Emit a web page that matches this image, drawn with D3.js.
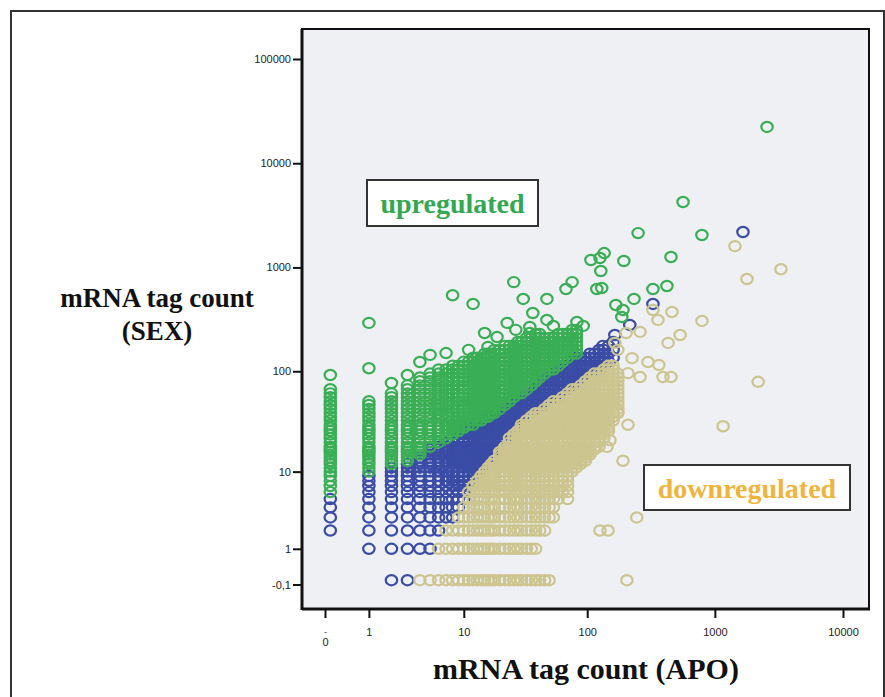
<!DOCTYPE html>
<html>
<head>
<meta charset="utf-8">
<script src="https://cdn.jsdelivr.net/npm/d3@7"></script>
<style>
  body { margin: 0; background: #fff; }
</style>
</head>
<body>
<script>
// tag counts per library, one column of SEX counts for each APO count
const downCols = [
  [4,[0]],
  [5,[0]],
  [6,[0,1]],
  [7,[0,1,2]],
  [8,[0,1,2]],
  [9,[0,1,2,3]],
  [10,[0,1,2,3,4]],
  [11,[0,1,2,3,4,5,6]],
  [12,[0,1,2,3,4,5,6,7]],
  [13,[0,1,2,3,4,5,6,7,8]],
  [14,[0,1,2,3,4,5,6,7,8,9]],
  [15,[0,1,2,3,4,5,6,7,8,9,10]],
  [16,[0,1,2,3,4,5,6,7,8,9,10,11]],
  [17,[0,1,2,3,4,5,6,7,8,9,10,11,12]],
  [18,[0,1,2,3,4,5,6,7,8,9,10,11,12,13]],
  [20,[0,1,2,3,4,5,6,7,8,9,10,11,12,13,14,15,16]],
  [22,[0,1,2,3,4,5,6,7,8,9,10,11,12,13,14,15,16,17,18]],
  [24,[0,1,2,3,4,5,6,7,8,9,10,11,12,13,14,15,16,17,18,20,22]],
  [26,[0,1,2,3,4,5,6,7,8,9,10,11,12,13,14,15,16,17,18,20,22,24]],
  [28,[0,1,2,3,4,5,6,7,8,9,10,11,12,13,14,15,16,17,18,20,22,24,26]],
  [30,[0,1,2,3,4,5,6,7,8,9,10,11,12,13,14,15,16,17,18,20,22,24,26,28,30]],
  [33,[0,1,2,3,4,5,6,7,8,9,10,11,12,13,14,15,16,17,18,20,22,24,26,28,30,33]],
  [36,[0,1,2,3,4,5,6,7,8,9,10,11,12,13,14,15,16,17,18,20,22,24,26,28,30,33,36]],
  [39,[0,1,2,3,4,5,6,7,8,9,10,11,12,13,14,15,16,17,18,20,22,24,26,28,30,33,36,39]],
  [42,[0,2,3,4,5,6,7,8,9,10,11,12,13,14,15,16,17,18,20,22,24,26,28,30,33,36,39]],
  [46,[0,2,3,4,5,6,7,8,9,10,11,12,13,14,15,16,17,18,20,22,24,26,28,30,33,36,39,43]],
  [50,[0,3,4,5,6,7,8,9,10,11,12,13,14,15,16,17,18,20,22,24,26,28,30,33,36,39,43,47]],
  [54,[3,4,5,6,7,8,9,10,11,12,13,14,15,16,17,18,20,22,24,26,28,30,33,36,39,43,47,51]],
  [59,[5,6,7,8,9,10,11,12,13,14,15,16,17,18,20,22,24,26,28,30,33,36,39,43,47,51]],
  [64,[6,7,8,9,10,11,12,13,14,15,16,17,18,20,22,24,26,28,30,33,36,39,43,47,51,56]],
  [70,[6,7,8,9,10,11,12,13,14,15,16,17,18,20,22,24,26,28,30,33,36,39,43,47,51,56,61]],
  [76,[10,11,12,13,14,15,16,17,18,20,22,24,26,28,30,33,36,39,43,47,51,56,61,67]],
  [82,[11,12,13,14,15,16,17,18,20,22,24,26,28,30,33,36,39,43,47,51,56,61,67]],
  [89,[12,13,14,15,16,17,18,20,22,24,26,28,30,33,36,39,43,47,51,56,61,67,73]],
  [97,[13,14,15,16,17,18,20,22,24,26,28,30,33,36,39,43,47,51,56,61,67,73,80]],
  [105,[15,16,17,18,20,22,24,26,28,30,33,36,39,43,47,51,56,61,67,73,80,87]],
  [114,[17,18,20,22,24,26,28,30,33,36,39,43,47,51,56,61,67,73,80,87,95]],
  [124,[18,20,22,24,26,28,30,33,36,39,43,47,51,56,61,67,73,80,87,95]],
  [135,[22,24,26,28,30,33,36,39,43,47,51,56,61,67,73,80,87,95,104]],
  [147,[26,28,30,33,36,39,43,47,51,56,61,67,73,80,87,95,104,113]],
  [160,[33,36,39,43,47,51,56,61,67,73,80,87,95,104,113]],
  [174,[39,43,47,51,56,61,67,73,80,87,95]]
];

const sameCols = [
  [0,[2,3,4,5]],
  [1,[1,2,3,4,5,6,7,8,9]],
  [2,[0,1,2,3,4,5,6,7,8,9,10,11]],
  [3,[0,1,2,3,4,5,6,7,8,9,10,11,12]],
  [4,[1,2,3,4,5,6,7,8,9,10,11,12,13,14]],
  [5,[1,2,3,4,5,6,7,8,9,10,11,12,13,14,15,16,17]],
  [6,[2,3,4,5,6,7,8,9,10,11,12,13,14,15,16,17,18]],
  [7,[3,4,5,6,7,8,9,10,11,12,13,14,15,16,17,18,20]],
  [8,[3,4,5,6,7,8,9,10,11,12,13,14,15,16,17,18,20,22]],
  [9,[4,5,6,7,8,9,10,11,12,13,14,15,16,17,18,20,22,24]],
  [10,[5,6,7,8,9,10,11,12,13,14,15,16,17,18,20,22,24,26]],
  [11,[7,8,9,10,11,12,13,14,15,16,17,18,20,22,24,26,28]],
  [12,[8,9,10,11,12,13,14,15,16,17,18,20,22,24,26,28]],
  [13,[9,10,11,12,13,14,15,16,17,18,20,22,24,26,28,30]],
  [14,[10,11,12,13,14,15,16,17,18,20,22,24,26,28,30]],
  [15,[11,12,13,14,15,16,17,18,20,22,24,26,28,30,33]],
  [16,[12,13,14,15,16,17,18,20,22,24,26,28,30,33]],
  [17,[13,14,15,16,17,18,20,22,24,26,28,30,33,36]],
  [18,[14,15,16,17,18,20,22,24,26,28,30,33,36]],
  [20,[17,18,20,22,24,26,28,30,33,36,39]],
  [22,[20,22,24,26,28,30,33,36,39,43]],
  [24,[24,26,28,30,33,36,39,43,47]],
  [26,[26,28,30,33,36,39,43,47,51]],
  [28,[28,30,33,36,39,43,47,51,56]],
  [30,[33,36,39,43,47,51,56]],
  [33,[36,39,43,47,51,56,61]],
  [36,[39,43,47,51,56,61,67]],
  [39,[43,47,51,56,61,67,73]],
  [42,[43,47,51,56,61,67,73,80]],
  [46,[47,51,56,61,67,73,80,87]],
  [50,[51,56,61,67,73,80,87,95]],
  [54,[56,61,67,73,80,87,95]],
  [59,[56,61,67,73,80,87,95,104]],
  [64,[61,67,73,80,87,95,104,113]],
  [70,[67,73,80,87,95,104,113,124]],
  [76,[73,80,87,95,104,113,124,135]],
  [82,[73,80,87,95,104,113,124,135]],
  [89,[80,87,95,104,113,124,135]],
  [97,[87,95,104,113,124,135]],
  [105,[95,104,113,124,135,148]],
  [114,[104,113,124,135,148]],
  [124,[104,113,124,135,148,161]],
  [135,[113,124,135,148,161]],
  [147,[124,148,176]],
  [160,[135,161,192]]
];

const upCols = [
  [0,[6,7,8,9,10,11,12,13,14,15,16,17,18,20,22,24,26,28,30,33,36,39,43,47,51,56,61,67]],
  [1,[10,11,12,13,14,15,16,17,18,20,22,24,26,28,30,33,36,39,43,47,51]],
  [2,[12,13,14,15,16,17,18,20,22,24,26,28,30,33,36,39,43,47,51,56,61]],
  [3,[13,14,15,16,17,18,20,22,24,26,28,30,33,36,39,43,47,51,56,61,67,73]],
  [4,[15,16,17,18,20,22,24,26,28,30,33,36,39,43,47,51,56,61,67,73,80,87]],
  [5,[18,20,22,24,26,28,30,33,36,39,43,47,51,56,61,67,73,80,87,95]],
  [6,[20,22,24,26,28,30,33,36,39,43,47,51,56,61,67,73,80,87,95,104]],
  [7,[22,24,26,28,30,33,36,39,43,47,51,56,61,67,73,80,87,95,104]],
  [8,[24,26,28,30,33,36,39,43,47,51,56,61,67,73,80,87,95,104,113]],
  [9,[26,28,30,33,36,39,43,47,51,56,61,67,73,80,87,95,104,113]],
  [10,[28,30,33,36,39,43,47,51,56,61,67,73,80,87,95,104,113,124]],
  [11,[30,33,36,39,43,47,51,56,61,67,73,80,87,95,104,113,124]],
  [12,[30,33,36,39,43,47,51,56,61,67,73,80,87,95,104,113,124,135]],
  [13,[33,36,39,43,47,51,56,61,67,73,80,87,95,104,113,124,135]],
  [14,[33,36,39,43,47,51,56,61,67,73,80,87,95,104,113,124,135]],
  [15,[36,39,43,47,51,56,61,67,73,80,87,95,104,113,124,135,148]],
  [16,[36,39,43,47,51,56,61,67,73,80,87,95,104,113,124,135,148]],
  [17,[39,43,47,51,56,61,67,73,80,87,95,104,113,124,135,148]],
  [18,[39,43,47,51,56,61,67,73,80,87,95,104,113,124,135,148,161]],
  [20,[43,47,51,56,61,67,73,80,87,95,104,113,124,135,148,161]],
  [22,[47,51,56,61,67,73,80,87,95,104,113,124,135,148,161,176]],
  [24,[51,56,61,67,73,80,87,95,104,113,124,135,148,161,176]],
  [26,[56,61,67,73,80,87,95,104,113,124,135,148,161,176]],
  [28,[61,67,73,80,87,95,104,113,124,135,148,161,176,192]],
  [30,[61,67,73,80,87,95,104,113,124,135,148,161,176,192]],
  [33,[67,73,80,87,95,104,113,124,135,148,161,176,192,210]],
  [36,[73,80,87,95,104,113,124,135,148,161,176,192,210]],
  [39,[80,87,95,104,113,124,135,148,161,176,192,210,229]],
  [42,[87,95,104,113,124,135,148,161,176,192,210,229]],
  [46,[95,104,113,124,135,148,161,176,192,210]],
  [50,[104,113,124,135,148,161,176,192,210]],
  [54,[104,113,124,135,148,161,176,192,210]],
  [59,[113,124,135,148,161,176,192,210,229]],
  [64,[124,135,148,161,176,192,210,229]],
  [70,[135,148,161,176,192,210,229]],
  [76,[148,161,176,192,210,229,250]],
  [82,[148,161,176,192,210,229,250]]
];

// single scattered tags [APO, SEX]
const downExtra = [
  [1434,1601],[1781,774],[3280,961],[793,306],[2177,79],[1160,29],[462,373],[328,390],
  [359,313],[260,240],[202,234],[535,224],[431,188],[300,123],[365,115],[393,88],
  [454,88],[260,88],[225,134],[174,40],[209,30],[151,21],[191,13],[70,5],[245,3],
  [126,2],[146,2],[205,0],[143,18],[165,188],[174,161],[209,96]
];
const sameExtra = [
  [133,176],[165,224],[216,280],[328,446],[1657,2190]
];
const upExtra = [
  [0,92],[1,107],[1,293],[2,77],[3,92],[4,123],[5,144],[7,150],[8,540],[12,446],
  [15,234],[19,214],[23,293],[27,251],[35,268],[37,365],[48,313],[11,161],[16,172],
  [2554,22300],[564,4250],[251,2137],[792,2046],[136,1374],[126,1231],[107,1178],
  [194,1152],[454,1259],[128,924],[26,723],[76,723],[68,621],[119,621],[130,634],
  [31,498],[48,498],[328,621],[422,663],[233,498],[168,436],[191,390],[187,334],
  [54,274],[83,299],[93,274],[35,234]
];

const xTickVals = [-0.1, 1, 10, 100, 1000, 10000];
const xTickLabels = ["0", "1", "10", "100", "1000", "10000"];
const yTickVals = [-0.1, 1, 10, 100, 1000, 10000, 100000];
const yTickLabels = ["-0,1", "1", "10", "100", "1000", "10000", "100000"];

const W = 885, H = 697;
const plot = {left: 302, top: 29, right: 869, bottom: 609};

const svg = d3.select("body").append("svg")
  .attr("width", W)
  .attr("height", H);

// outer frame of the figure
svg.append("rect")
  .attr("x", 11).attr("y", 11)
  .attr("width", 873).attr("height", 720)
  .attr("fill", "#fff")
  .attr("stroke", "#333")
  .attr("stroke-width", 2);

// plot background
svg.append("rect")
  .attr("x", plot.left).attr("y", plot.top)
  .attr("width", plot.right - plot.left)
  .attr("height", plot.bottom - plot.top)
  .attr("fill", "#eff0f4");

// log(count+1) like axes
const x = d3.scaleSymlog().constant(1)
  .domain([-0.1, 10000])
  .range([325, 843]);
const y = d3.scaleSymlog().constant(1)
  .domain([-0.1, 100000])
  .range([584.5, 59]);

const toPts = cols => cols.flatMap(([a, ys]) => ys.map(b => ({x: a, y: b})));
const toPairs = arr => arr.map(([a, b]) => ({x: a, y: b}));

const groups = [
  {pts: toPts(sameCols).concat(toPairs(sameExtra)), color: "#3a4ca6"},
  {pts: toPts(downCols).concat(toPairs(downExtra)), color: "#ccc590"},
  {pts: toPts(upCols).concat(toPairs(upExtra)), color: "#3aae55"}
];

groups.forEach(g => {
  svg.append("g")
    .selectAll("ellipse")
    .data(g.pts)
    .join("ellipse")
      .attr("cx", d => x(d.x))
      .attr("cy", d => y(d.y))
      .attr("rx", 5.7)
      .attr("ry", 5.1)
      .attr("fill", "none")
      .attr("stroke", g.color)
      .attr("stroke-width", 2.2);
});

// frame lines
svg.append("rect")
  .attr("x", plot.left).attr("y", plot.top)
  .attr("width", plot.right - plot.left)
  .attr("height", plot.bottom - plot.top)
  .attr("fill", "none")
  .attr("stroke", "#111")
  .attr("stroke-width", 2);
svg.append("line")
  .attr("x1", plot.left).attr("x2", plot.left)
  .attr("y1", plot.top).attr("y2", plot.bottom + 1)
  .attr("stroke", "#111").attr("stroke-width", 3);
svg.append("line")
  .attr("x1", plot.left).attr("x2", plot.right + 1)
  .attr("y1", plot.bottom).attr("y2", plot.bottom)
  .attr("stroke", "#111").attr("stroke-width", 3);

// y axis
const yAxis = svg.append("g")
  .attr("transform", `translate(${plot.left},0)`)
  .call(d3.axisLeft(y)
    .tickValues(yTickVals)
    .tickFormat((d, i) => yTickLabels[i])
    .tickSize(9)
    .tickPadding(2));
yAxis.select(".domain").remove();
yAxis.selectAll("line").attr("stroke", "#111").attr("stroke-width", 2);
yAxis.selectAll("text")
  .style("font-family", "'Liberation Sans', Arial, sans-serif")
  .style("font-size", "11px")
  .attr("fill", "#222");

// x axis
const xAxis = svg.append("g")
  .attr("transform", `translate(0,${plot.bottom})`)
  .call(d3.axisBottom(x)
    .tickValues(xTickVals)
    .tickFormat((d, i) => xTickLabels[i])
    .tickSize(9)
    .tickPadding(10));
xAxis.select(".domain").remove();
xAxis.selectAll("line").attr("stroke", "#111").attr("stroke-width", 2);
xAxis.selectAll("text")
  .style("font-family", "'Liberation Sans', Arial, sans-serif")
  .style("font-size", "11px")
  .attr("fill", "#222");
// the first label sits lower, with a small dash above it
xAxis.selectAll(".tick").filter((d, i) => i === 0).each(function() {
  const t = d3.select(this);
  t.select("text").attr("y", 29);
  t.append("text")
    .attr("y", 20).attr("dy", "0.71em")
    .attr("text-anchor", "middle")
    .style("font-family", "'Liberation Sans', Arial, sans-serif")
    .style("font-size", "9px")
    .attr("fill", "#444")
    .text("-");
});

const serif = "'Liberation Serif', 'Times New Roman', serif";

// axis titles
svg.append("text")
  .attr("x", 157).attr("y", 307)
  .attr("text-anchor", "middle")
  .style("font-family", serif).style("font-weight", 700).style("font-size", "27px")
  .attr("fill", "#111")
  .text("mRNA tag count");
svg.append("text")
  .attr("x", 157).attr("y", 340)
  .attr("text-anchor", "middle")
  .style("font-family", serif).style("font-weight", 700).style("font-size", "27px")
  .attr("fill", "#111")
  .text("(SEX)");
svg.append("text")
  .attr("x", 586).attr("y", 679)
  .attr("text-anchor", "middle")
  .style("font-family", serif).style("font-weight", 700).style("font-size", "30px")
  .attr("fill", "#111")
  .text("mRNA tag count (APO)");

// labelled boxes
const boxes = [
  {x: 367, y: 180, w: 171, h: 46, text: "upregulated", color: "#33a852"},
  {x: 644, y: 465, w: 206, h: 45, text: "downregulated", color: "#f0b43c"}
];
boxes.forEach(b => {
  svg.append("rect")
    .attr("x", b.x).attr("y", b.y)
    .attr("width", b.w).attr("height", b.h)
    .attr("fill", "#fff")
    .attr("stroke", "#333")
    .attr("stroke-width", 2);
  svg.append("text")
    .attr("x", b.x + b.w / 2).attr("y", b.y + 33)
    .attr("text-anchor", "middle")
    .style("font-family", serif).style("font-weight", 700).style("font-size", "28px")
    .attr("fill", b.color)
    .text(b.text);
});
</script>
</body>
</html>
